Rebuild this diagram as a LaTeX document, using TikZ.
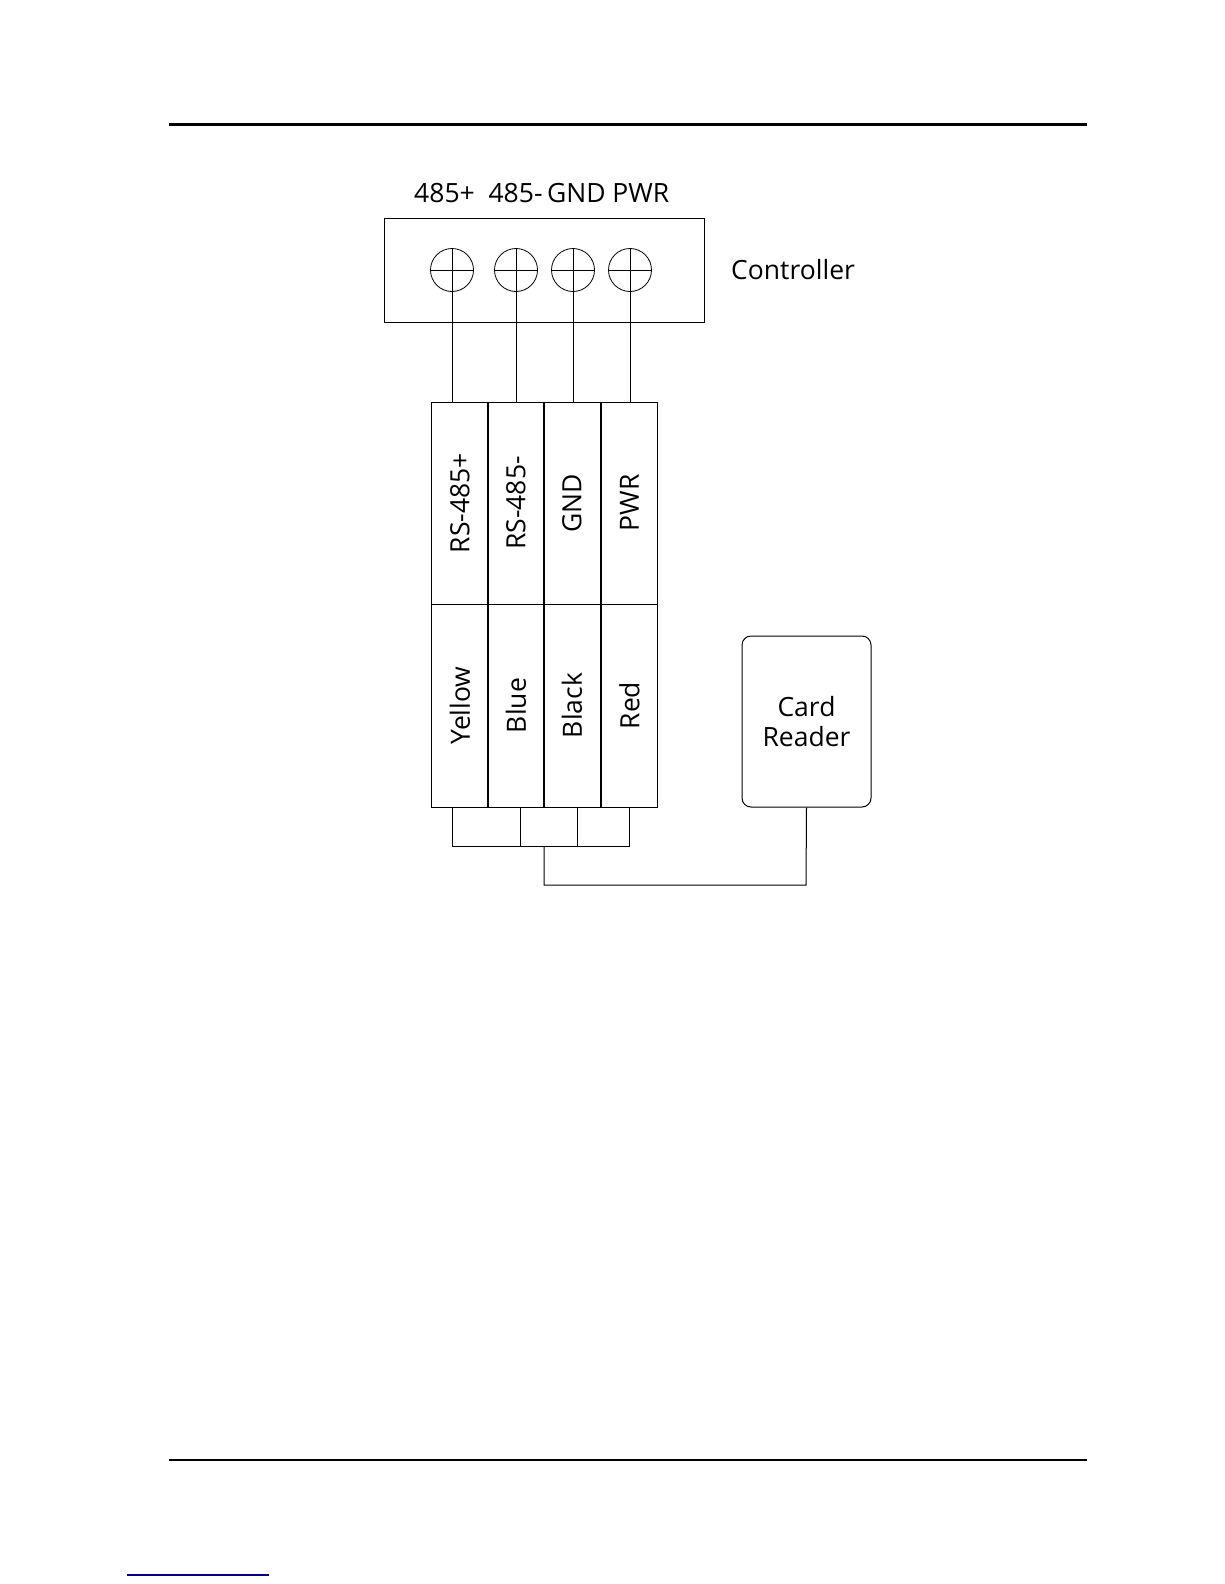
\documentclass[tikz,border=0pt]{standalone}
\usepackage{fontspec}
\setmainfont{Open Sans}
\begin{document}
\begin{tikzpicture}[x=1pt,y=-1pt,
  ln/.style={line width=1pt},
  lbl/.style={font=\fontsize{26.5}{28}\selectfont, inner sep=0pt},
  cell/.style={draw, line width=1pt, minimum width=56pt, minimum height=202pt, inner sep=0pt},
  term/.style={draw, circle, minimum size=43pt, inner sep=0pt, line width=0.8pt}]
\useasboundingbox (0,0) rectangle (1224,1584);
\fill[white] (0,0) rectangle (1224,1584);
\draw[line width=3pt] (169,125) -- (1087,125);
\draw[line width=2pt] (169,1460) -- (1087,1460);
\draw[line width=1.5pt, blue!50!black] (127,1575) -- (269,1575);
\node[lbl, anchor=base west] (hdr) at (414,202) {485+\ \ 485-\,GND PWR};
\node[draw, ln, minimum width=320pt, minimum height=104pt, inner sep=0pt] (ctrl) at (544,270) {};
\node[lbl, anchor=west] (ctrltxt) at (731,270) {Controller};
\foreach \n/\x in {1/452,2/516,3/573,4/630}{
  \node[term] (t\n) at (\x,270) {};
  \draw[line width=0.8pt] (t\n.west) -- (t\n.east) (t\n.north) -- (t\n.south);
}
\foreach \n/\x/\a/\b in {1/460/RS-485+/Yellow,2/516/RS-485-/Blue,3/572/GND/Black,4/629.5/PWR/Red}{
  \node[cell, minimum width=56.5pt] (u\n) at (\x,503) {};
  \node[cell, minimum width=56.5pt, minimum height=203pt] (l\n) at (\x,705.5) {};
  \node[lbl, rotate=90] at (u\n) {\a};
  \node[lbl, rotate=90] at (l\n) {\b};
}
\foreach \n/\x in {1/452,2/516,3/573,4/630}{
  \draw[ln] (t\n.south) -- (\x,402);
}
\node[draw, ln, rounded corners=9pt, minimum width=129pt, minimum height=171pt, align=center, font=\fontsize{26.5}{30}\selectfont] (cr) at (806.5,721.5) {Card\\Reader};
\coordinate (b1) at (452,846);
\coordinate (b4) at (629,846);
\draw[ln] (452,807) -- (b1) -- (b4) -- (629,807);
\draw[ln] (520,807) -- (520,846);
\draw[ln] (577,807) -- (577,846);
\draw[ln] (544,846) -- (544,885) -- (806,885) -- (cr.south);
\end{tikzpicture}
\end{document}
